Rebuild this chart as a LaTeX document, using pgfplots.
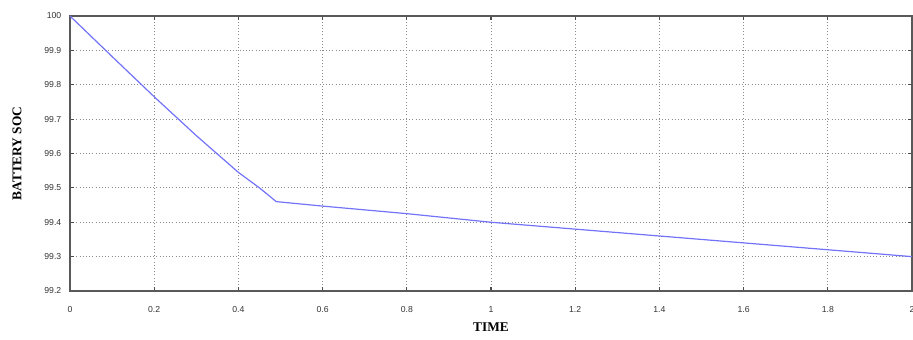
\documentclass[border=0pt]{standalone}
\usepackage{fontspec}
\setmainfont{Liberation Serif}
\newfontfamily\hel{Liberation Sans}
\usepackage{pgfplots}
\pgfplotsset{compat=1.18}
\definecolor{socblue}{RGB}{115,115,250}
\begin{document}
\begin{tikzpicture}
\begin{axis}[
  name=ax,
  scale only axis,
  width=631.5pt, height=206.25pt,
  xmin=0, xmax=2, ymin=99.2, ymax=100,
  xtick={0,0.2,...,2.01},
  ytick={99.2,99.3,...,100.01},
  xticklabels={0,0.2,0.4,0.6,0.8,1,1.2,1.4,1.6,1.8,2},
  yticklabels={99.2,99.3,99.4,99.5,99.6,99.7,99.8,99.9,100},
  /pgf/number format/assume math mode=true,
  tick label style={font=\hel\fontsize{6.5}{7}\selectfont, text=black!80},
  xticklabel style={yshift=-8pt},
  yticklabel style={xshift=-3pt},
  tick align=inside,
  major tick length=3pt,
  tick style={black!70, line width=0.8pt},
  axis line style={black!65, line width=1pt},
  grid=major,
  major grid style={dotted, black!45, line width=0.6pt},
  xlabel={\textbf{TIME}},
  ylabel={\textbf{BATTERY SOC}},
  label style={font=\fontsize{10}{12}\selectfont},
  xlabel style={at={(axis description cs:0.5,-0.131)}, anchor=center},
  ylabel style={at={(axis description cs:-0.063,0.5)}, anchor=center},
]
\addplot[socblue, line width=0.9pt] coordinates {
(0,100) (0.1,99.882) (0.2,99.765) (0.3,99.652) (0.4,99.545) (0.45,99.5) (0.49,99.46)
(0.6,99.447) (0.8,99.425) (1,99.40) (1.2,99.38) (1.4,99.36) (1.6,99.34) (1.8,99.32) (2,99.30)
};
\end{axis}
\pgfresetboundingbox
\path ([xshift=-52.5pt,yshift=-36pt]ax.south west) rectangle ([xshift=0.75pt,yshift=12pt]ax.north east);
\end{tikzpicture}
\end{document}
